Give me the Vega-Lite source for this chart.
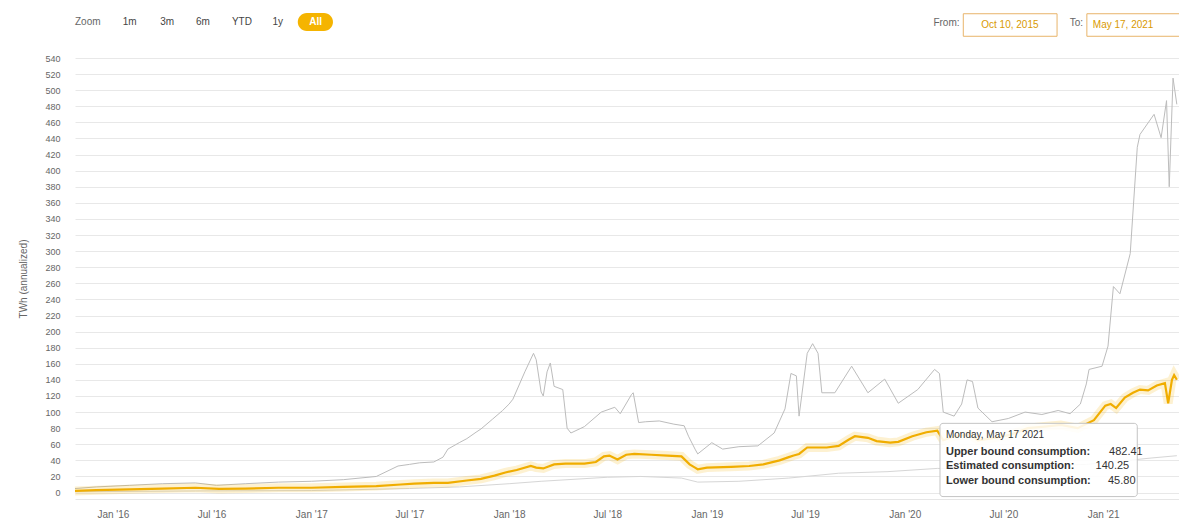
{
  "$schema": "https://vega.github.io/schema/vega-lite/v6.json",
  "width": 1104,
  "height": 441,
  "autosize": {"type": "none"},
  "padding": {"left": 75, "top": 58, "right": 0, "bottom": 23},
  "background": "white",
  "config": {
    "font": "Liberation Sans",
    "view": {"stroke": null}
  },
  "datasets": {
    "one": [{}],
    "upper": [
      {"date": "2015-10-23", "value": 5}, {"date": "2015-12-01", "value": 7}, {"date": "2016-02-01", "value": 9},
      {"date": "2016-04-01", "value": 11}, {"date": "2016-06-01", "value": 12}, {"date": "2016-07-10", "value": 9},
      {"date": "2016-09-01", "value": 11}, {"date": "2016-11-01", "value": 13}, {"date": "2017-01-01", "value": 14},
      {"date": "2017-03-01", "value": 16}, {"date": "2017-05-01", "value": 20}, {"date": "2017-06-10", "value": 33},
      {"date": "2017-07-01", "value": 35}, {"date": "2017-07-20", "value": 37}, {"date": "2017-08-15", "value": 38},
      {"date": "2017-09-01", "value": 44}, {"date": "2017-09-10", "value": 54}, {"date": "2017-10-01", "value": 62},
      {"date": "2017-10-15", "value": 67}, {"date": "2017-11-01", "value": 75}, {"date": "2017-11-10", "value": 79},
      {"date": "2017-12-01", "value": 91}, {"date": "2017-12-20", "value": 102}, {"date": "2018-01-01", "value": 110},
      {"date": "2018-01-08", "value": 116}, {"date": "2018-01-30", "value": 150}, {"date": "2018-02-15", "value": 173},
      {"date": "2018-02-20", "value": 165}, {"date": "2018-03-01", "value": 125}, {"date": "2018-03-05", "value": 120},
      {"date": "2018-03-12", "value": 150}, {"date": "2018-03-18", "value": 161}, {"date": "2018-03-25", "value": 132},
      {"date": "2018-04-10", "value": 128}, {"date": "2018-04-18", "value": 80}, {"date": "2018-04-25", "value": 74},
      {"date": "2018-05-20", "value": 82}, {"date": "2018-06-20", "value": 100}, {"date": "2018-07-15", "value": 106},
      {"date": "2018-07-25", "value": 98}, {"date": "2018-08-15", "value": 122}, {"date": "2018-08-18", "value": 124},
      {"date": "2018-08-28", "value": 87}, {"date": "2018-09-10", "value": 88}, {"date": "2018-10-05", "value": 89},
      {"date": "2018-11-01", "value": 85}, {"date": "2018-11-20", "value": 83}, {"date": "2018-11-28", "value": 70},
      {"date": "2018-12-10", "value": 54}, {"date": "2018-12-15", "value": 48}, {"date": "2019-01-10", "value": 62},
      {"date": "2019-01-30", "value": 54}, {"date": "2019-03-01", "value": 57}, {"date": "2019-04-05", "value": 58},
      {"date": "2019-05-05", "value": 74}, {"date": "2019-05-25", "value": 104}, {"date": "2019-06-05", "value": 148},
      {"date": "2019-06-15", "value": 145}, {"date": "2019-06-20", "value": 95}, {"date": "2019-07-05", "value": 173},
      {"date": "2019-07-15", "value": 185}, {"date": "2019-07-25", "value": 173}, {"date": "2019-08-01", "value": 124},
      {"date": "2019-08-25", "value": 124}, {"date": "2019-09-25", "value": 157}, {"date": "2019-10-25", "value": 124},
      {"date": "2019-11-25", "value": 141}, {"date": "2019-12-20", "value": 111}, {"date": "2020-01-25", "value": 128},
      {"date": "2020-02-25", "value": 153}, {"date": "2020-03-05", "value": 148}, {"date": "2020-03-12", "value": 100},
      {"date": "2020-04-01", "value": 95}, {"date": "2020-04-15", "value": 110}, {"date": "2020-04-25", "value": 140},
      {"date": "2020-05-05", "value": 138}, {"date": "2020-05-15", "value": 105}, {"date": "2020-06-10", "value": 88},
      {"date": "2020-07-10", "value": 92}, {"date": "2020-08-10", "value": 100}, {"date": "2020-09-10", "value": 97},
      {"date": "2020-10-10", "value": 102}, {"date": "2020-11-01", "value": 98}, {"date": "2020-11-20", "value": 110},
      {"date": "2020-12-01", "value": 135}, {"date": "2020-12-06", "value": 153}, {"date": "2020-12-30", "value": 157},
      {"date": "2021-01-10", "value": 182}, {"date": "2021-01-20", "value": 256}, {"date": "2021-02-01", "value": 247},
      {"date": "2021-02-20", "value": 297}, {"date": "2021-03-05", "value": 429}, {"date": "2021-03-10", "value": 445},
      {"date": "2021-04-05", "value": 470}, {"date": "2021-04-18", "value": 441}, {"date": "2021-04-28", "value": 487},
      {"date": "2021-05-03", "value": 380}, {"date": "2021-05-10", "value": 515}, {"date": "2021-05-17", "value": 482.41}
    ],
    "estimate": [
      {"date": "2015-10-23", "value": 2}, {"date": "2015-12-01", "value": 3}, {"date": "2016-02-01", "value": 4},
      {"date": "2016-04-01", "value": 5}, {"date": "2016-06-01", "value": 6}, {"date": "2016-07-15", "value": 4.5},
      {"date": "2016-09-01", "value": 5}, {"date": "2016-11-01", "value": 6}, {"date": "2017-01-01", "value": 6},
      {"date": "2017-03-01", "value": 7}, {"date": "2017-05-01", "value": 8}, {"date": "2017-06-15", "value": 10},
      {"date": "2017-07-10", "value": 11}, {"date": "2017-08-15", "value": 12}, {"date": "2017-09-10", "value": 12},
      {"date": "2017-10-15", "value": 15}, {"date": "2017-11-10", "value": 17}, {"date": "2017-12-05", "value": 21},
      {"date": "2017-12-25", "value": 25}, {"date": "2018-01-15", "value": 28}, {"date": "2018-02-10", "value": 33},
      {"date": "2018-02-20", "value": 31}, {"date": "2018-03-05", "value": 30}, {"date": "2018-03-25", "value": 35},
      {"date": "2018-04-15", "value": 36}, {"date": "2018-05-20", "value": 36}, {"date": "2018-06-10", "value": 38},
      {"date": "2018-06-25", "value": 45}, {"date": "2018-07-05", "value": 46}, {"date": "2018-07-20", "value": 41},
      {"date": "2018-08-05", "value": 47}, {"date": "2018-08-20", "value": 48}, {"date": "2018-09-20", "value": 47},
      {"date": "2018-10-20", "value": 46}, {"date": "2018-11-15", "value": 45}, {"date": "2018-11-30", "value": 35},
      {"date": "2018-12-10", "value": 31}, {"date": "2018-12-15", "value": 29}, {"date": "2019-01-01", "value": 31},
      {"date": "2019-02-15", "value": 32}, {"date": "2019-03-20", "value": 33}, {"date": "2019-04-15", "value": 35},
      {"date": "2019-05-15", "value": 40}, {"date": "2019-06-01", "value": 44}, {"date": "2019-06-10", "value": 46},
      {"date": "2019-06-20", "value": 48}, {"date": "2019-07-05", "value": 56}, {"date": "2019-08-10", "value": 56},
      {"date": "2019-09-01", "value": 58}, {"date": "2019-09-20", "value": 66}, {"date": "2019-10-01", "value": 70},
      {"date": "2019-10-25", "value": 68}, {"date": "2019-11-10", "value": 64}, {"date": "2019-12-05", "value": 62},
      {"date": "2019-12-20", "value": 63}, {"date": "2020-01-15", "value": 70}, {"date": "2020-02-10", "value": 75},
      {"date": "2020-03-01", "value": 77}, {"date": "2020-03-12", "value": 65}, {"date": "2020-04-01", "value": 70},
      {"date": "2020-05-01", "value": 72}, {"date": "2020-05-15", "value": 65}, {"date": "2020-06-15", "value": 68},
      {"date": "2020-07-15", "value": 72}, {"date": "2020-08-15", "value": 80}, {"date": "2020-09-15", "value": 82},
      {"date": "2020-10-15", "value": 84}, {"date": "2020-11-15", "value": 80}, {"date": "2020-12-15", "value": 90},
      {"date": "2021-01-05", "value": 108}, {"date": "2021-01-15", "value": 110}, {"date": "2021-01-25", "value": 105},
      {"date": "2021-02-10", "value": 118}, {"date": "2021-02-25", "value": 124}, {"date": "2021-03-10", "value": 128},
      {"date": "2021-03-25", "value": 127}, {"date": "2021-04-10", "value": 133}, {"date": "2021-04-25", "value": 136},
      {"date": "2021-05-01", "value": 111}, {"date": "2021-05-08", "value": 140}, {"date": "2021-05-12", "value": 146},
      {"date": "2021-05-17", "value": 140.25}
    ],
    "lower": [
      {"date": "2015-10-23", "value": 1}, {"date": "2016-06-01", "value": 2}, {"date": "2017-01-01", "value": 2.5},
      {"date": "2017-07-01", "value": 5}, {"date": "2017-10-01", "value": 7}, {"date": "2018-01-01", "value": 11},
      {"date": "2018-03-01", "value": 14}, {"date": "2018-07-01", "value": 19}, {"date": "2018-09-01", "value": 20},
      {"date": "2018-11-15", "value": 18}, {"date": "2018-12-15", "value": 13}, {"date": "2019-03-01", "value": 14},
      {"date": "2019-06-01", "value": 18}, {"date": "2019-09-01", "value": 24}, {"date": "2019-12-01", "value": 26},
      {"date": "2020-03-01", "value": 30}, {"date": "2020-06-01", "value": 29}, {"date": "2020-09-01", "value": 33},
      {"date": "2020-12-01", "value": 35}, {"date": "2021-02-01", "value": 39}, {"date": "2021-04-01", "value": 43},
      {"date": "2021-05-17", "value": 45.8}
    ]
  },
  "layer": [
    {
      "data": {"name": "lower"},
      "mark": {"type": "line", "stroke": "#d6d6d6", "strokeWidth": 1},
      "encoding": {
        "x": {
          "field": "date", "type": "temporal",
          "scale": {"domain": [{"year": 2015, "month": 10, "date": 23}, {"year": 2021, "month": 5, "date": 21}]},
          "axis": {
            "title": null,
            "tickCount": 40,
            "values": [
              {"year": 2016, "month": 1, "date": 1}, {"year": 2016, "month": 7, "date": 1},
              {"year": 2017, "month": 1, "date": 1}, {"year": 2017, "month": 7, "date": 1},
              {"year": 2018, "month": 1, "date": 1}, {"year": 2018, "month": 7, "date": 1},
              {"year": 2019, "month": 1, "date": 1}, {"year": 2019, "month": 7, "date": 1},
              {"year": 2020, "month": 1, "date": 1}, {"year": 2020, "month": 7, "date": 1},
              {"year": 2021, "month": 1, "date": 1}
            ],
            "format": "%b '%y",
            "labelColor": "#666666", "labelFontSize": 10, "labelPadding": 10,
            "grid": false, "ticks": false, "domainColor": "#e6e6e6", "labelFlush": false
          }
        },
        "y": {
          "field": "value", "type": "quantitative",
          "scale": {"domain": [-8, 540], "nice": false, "zero": false},
          "axis": {
            "title": "TWh (annualized)",
            "titleColor": "#666666", "titleFontSize": 10, "titleFontWeight": "normal", "titlePadding": 16,
            "tickCount": 40,
            "values": [0,20,40,60,80,100,120,140,160,180,200,220,240,260,280,300,320,340,360,380,400,420,440,460,480,500,520,540],
            "labelColor": "#666666", "labelFontSize": 9, "labelPadding": 15, "labelOverlap": false,
            "ticks": false, "domain": false, "grid": true, "gridColor": "#e8e8e8"
          }
        }
      }
    },
    {
      "data": {"name": "upper"},
      "mark": {"type": "line", "stroke": "#bcbcbc", "strokeWidth": 1},
      "encoding": {
        "x": {"field": "date", "type": "temporal"},
        "y": {"field": "value", "type": "quantitative"}
      }
    },
    {
      "data": {"name": "estimate"},
      "mark": {"type": "line", "stroke": "#f5b400", "strokeWidth": 9, "opacity": 0.18},
      "encoding": {
        "x": {"field": "date", "type": "temporal"},
        "y": {"field": "value", "type": "quantitative"}
      }
    },
    {
      "data": {"name": "estimate"},
      "mark": {"type": "line", "stroke": "#f0ad00", "strokeWidth": 2.2},
      "encoding": {
        "x": {"field": "date", "type": "temporal"},
        "y": {"field": "value", "type": "quantitative"}
      }
    },
    {
      "data": {"name": "one"},
      "mark": {"type": "rect", "fill": "white", "fillOpacity": 0.88, "stroke": "#c4c4c4", "strokeWidth": 1, "cornerRadius": 3},
      "encoding": {
        "x": {"datum": {"year": 2020, "month": 3, "date": 6}, "type": "temporal"},
        "x2": {"datum": {"year": 2021, "month": 3, "date": 5}},
        "y": {"datum": 86, "type": "quantitative"},
        "y2": {"datum": -5}
      }
    },
    {
      "data": {"name": "one"},
      "mark": {"type": "text", "align": "left", "baseline": "middle", "fontSize": 10, "color": "#333333"},
      "encoding": {
        "x": {"datum": {"year": 2020, "month": 3, "date": 17}, "type": "temporal"},
        "y": {"datum": 71, "type": "quantitative"},
        "text": {"value": "Monday, May 17 2021"}
      }
    },
    {
      "data": {"name": "one"},
      "mark": {"type": "text", "align": "left", "baseline": "middle", "fontSize": 11, "fontWeight": "bold", "color": "#333333"},
      "encoding": {
        "x": {"datum": {"year": 2020, "month": 3, "date": 17}, "type": "temporal"},
        "y": {"datum": 51, "type": "quantitative"},
        "text": {"value": "Upper bound consumption:"}
      }
    },
    {
      "data": {"name": "one"},
      "mark": {"type": "text", "align": "left", "baseline": "middle", "fontSize": 11, "fontWeight": "bold", "color": "#333333"},
      "encoding": {
        "x": {"datum": {"year": 2020, "month": 3, "date": 17}, "type": "temporal"},
        "y": {"datum": 32.5, "type": "quantitative"},
        "text": {"value": "Estimated consumption:"}
      }
    },
    {
      "data": {"name": "one"},
      "mark": {"type": "text", "align": "left", "baseline": "middle", "fontSize": 11, "fontWeight": "bold", "color": "#333333"},
      "encoding": {
        "x": {"datum": {"year": 2020, "month": 3, "date": 17}, "type": "temporal"},
        "y": {"datum": 14, "type": "quantitative"},
        "text": {"value": "Lower bound consumption:"}
      }
    },
    {
      "data": {"name": "one"},
      "mark": {"type": "text", "align": "left", "baseline": "middle", "fontSize": 11, "color": "#333333"},
      "encoding": {
        "x": {"datum": {"year": 2021, "month": 1, "date": 12}, "type": "temporal"},
        "y": {"datum": 51, "type": "quantitative"},
        "text": {"value": "482.41"}
      }
    },
    {
      "data": {"name": "one"},
      "mark": {"type": "text", "align": "left", "baseline": "middle", "fontSize": 11, "color": "#333333"},
      "encoding": {
        "x": {"datum": {"year": 2020, "month": 12, "date": 18}, "type": "temporal"},
        "y": {"datum": 32.5, "type": "quantitative"},
        "text": {"value": "140.25"}
      }
    },
    {
      "data": {"name": "one"},
      "mark": {"type": "text", "align": "left", "baseline": "middle", "fontSize": 11, "color": "#333333"},
      "encoding": {
        "x": {"datum": {"year": 2021, "month": 1, "date": 10}, "type": "temporal"},
        "y": {"datum": 14, "type": "quantitative"},
        "text": {"value": "45.80"}
      }
    },
    {
      "data": {"name": "one"},
      "mark": {"type": "text", "align": "left", "baseline": "middle", "fontSize": 10, "color": "#666666"},
      "encoding": {
        "x": {"datum": {"year": 2015, "month": 10, "date": 23}, "type": "temporal"},
        "y": {"datum": 584.7, "type": "quantitative"},
        "text": {"value": "Zoom"}
      }
    },
    {
      "data": {"name": "one"},
      "mark": {"type": "text", "align": "center", "baseline": "middle", "fontSize": 10, "color": "#444444"},
      "encoding": {
        "x": {"datum": {"year": 2016, "month": 2, "date": 1}, "type": "temporal"},
        "y": {"datum": 584.7, "type": "quantitative"},
        "text": {"value": "1m"}
      }
    },
    {
      "data": {"name": "one"},
      "mark": {"type": "text", "align": "center", "baseline": "middle", "fontSize": 10, "color": "#444444"},
      "encoding": {
        "x": {"datum": {"year": 2016, "month": 4, "date": 10}, "type": "temporal"},
        "y": {"datum": 584.7, "type": "quantitative"},
        "text": {"value": "3m"}
      }
    },
    {
      "data": {"name": "one"},
      "mark": {"type": "text", "align": "center", "baseline": "middle", "fontSize": 10, "color": "#444444"},
      "encoding": {
        "x": {"datum": {"year": 2016, "month": 6, "date": 15}, "type": "temporal"},
        "y": {"datum": 584.7, "type": "quantitative"},
        "text": {"value": "6m"}
      }
    },
    {
      "data": {"name": "one"},
      "mark": {"type": "text", "align": "center", "baseline": "middle", "fontSize": 10, "color": "#444444"},
      "encoding": {
        "x": {"datum": {"year": 2016, "month": 8, "date": 26}, "type": "temporal"},
        "y": {"datum": 584.7, "type": "quantitative"},
        "text": {"value": "YTD"}
      }
    },
    {
      "data": {"name": "one"},
      "mark": {"type": "text", "align": "center", "baseline": "middle", "fontSize": 10, "color": "#444444"},
      "encoding": {
        "x": {"datum": {"year": 2016, "month": 10, "date": 31}, "type": "temporal"},
        "y": {"datum": 584.7, "type": "quantitative"},
        "text": {"value": "1y"}
      }
    },
    {
      "data": {"name": "one"},
      "mark": {"type": "rect", "fill": "#f5b400", "cornerRadius": 9},
      "encoding": {
        "x": {"datum": {"year": 2016, "month": 12, "date": 7}, "type": "temporal"},
        "x2": {"datum": {"year": 2017, "month": 2, "date": 10}},
        "y": {"datum": 596, "type": "quantitative"},
        "y2": {"datum": 573.5}
      }
    },
    {
      "data": {"name": "one"},
      "mark": {"type": "text", "align": "center", "baseline": "middle", "fontSize": 10, "fontWeight": "bold", "color": "#ffffff"},
      "encoding": {
        "x": {"datum": {"year": 2017, "month": 1, "date": 9}, "type": "temporal"},
        "y": {"datum": 584.7, "type": "quantitative"},
        "text": {"value": "All"}
      }
    },
    {
      "data": {"name": "one"},
      "mark": {"type": "text", "align": "right", "baseline": "middle", "fontSize": 10, "color": "#666666"},
      "encoding": {
        "x": {"datum": {"year": 2020, "month": 4, "date": 11}, "type": "temporal"},
        "y": {"datum": 584, "type": "quantitative"},
        "text": {"value": "From:"}
      }
    },
    {
      "data": {"name": "one"},
      "mark": {"type": "rect", "fill": "white", "stroke": "#e8b46a", "strokeWidth": 1},
      "encoding": {
        "x": {"datum": {"year": 2020, "month": 4, "date": 18}, "type": "temporal"},
        "x2": {"datum": {"year": 2020, "month": 10, "date": 8}},
        "y": {"datum": 595, "type": "quantitative"},
        "y2": {"datum": 567}
      }
    },
    {
      "data": {"name": "one"},
      "mark": {"type": "text", "align": "center", "baseline": "middle", "fontSize": 10, "color": "#d99a00"},
      "encoding": {
        "x": {"datum": {"year": 2020, "month": 7, "date": 13}, "type": "temporal"},
        "y": {"datum": 581, "type": "quantitative"},
        "text": {"value": "Oct 10, 2015"}
      }
    },
    {
      "data": {"name": "one"},
      "mark": {"type": "text", "align": "right", "baseline": "middle", "fontSize": 10, "color": "#666666"},
      "encoding": {
        "x": {"datum": {"year": 2020, "month": 11, "date": 25}, "type": "temporal"},
        "y": {"datum": 584, "type": "quantitative"},
        "text": {"value": "To:"}
      }
    },
    {
      "data": {"name": "one"},
      "mark": {"type": "rect", "fill": "white", "stroke": "#e8b46a", "strokeWidth": 1},
      "encoding": {
        "x": {"datum": {"year": 2020, "month": 12, "date": 2}, "type": "temporal"},
        "x2": {"datum": {"year": 2021, "month": 7, "date": 1}},
        "y": {"datum": 595, "type": "quantitative"},
        "y2": {"datum": 567}
      }
    },
    {
      "data": {"name": "one"},
      "mark": {"type": "text", "align": "left", "baseline": "middle", "fontSize": 10, "color": "#d99a00"},
      "encoding": {
        "x": {"datum": {"year": 2020, "month": 12, "date": 13}, "type": "temporal"},
        "y": {"datum": 581, "type": "quantitative"},
        "text": {"value": "May 17, 2021"}
      }
    }
  ]
}
